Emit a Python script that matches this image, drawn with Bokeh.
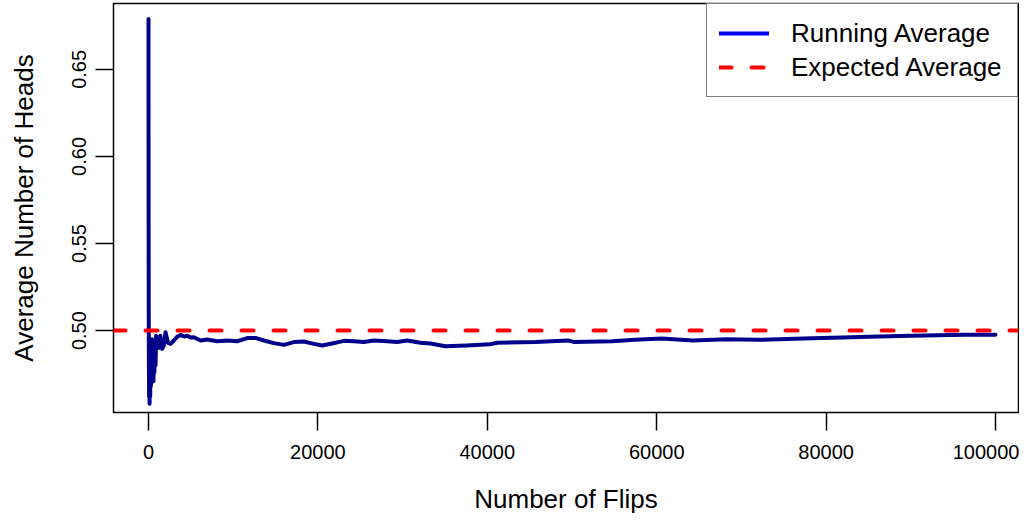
from bokeh.plotting import figure
from bokeh.models import (Range1d, FixedTicker, Span, Legend, LegendItem,
                          NumeralTickFormatter)
from bokeh.embed import file_html
from bokeh.resources import INLINE

# ---- data ----
flips = [1, 5, 15, 30, 50, 70, 100, 130, 160, 200, 240, 280, 320, 370, 420,
         470, 520, 580, 640, 700, 760, 830, 900, 1023, 1200, 1400, 1613, 1810,
         2007, 2300, 2597, 2991, 3400, 3778, 4200, 4565, 4958, 5352, 6139,
         6926, 8107, 9287, 10468, 11649, 12633, 13617, 14797, 15978, 17159,
         18339, 19520, 20504, 21684, 23062, 24242, 25423, 26603, 28177, 29358,
         30539, 32113, 33294, 35053, 37544, 40260, 41160, 45680, 49530, 50210,
         54735, 57450, 60610, 64230, 68300, 71920, 77340, 81870, 85040, 88650,
         93180, 96340, 100000]
running_avg = [0.679, 0.62, 0.56, 0.51, 0.48, 0.462, 0.470, 0.458, 0.475,
               0.462, 0.490, 0.468, 0.485, 0.470, 0.495, 0.478, 0.490, 0.471,
               0.486, 0.476, 0.492, 0.480, 0.497, 0.4964, 0.4900, 0.4970,
               0.4895, 0.4914, 0.4991, 0.4930, 0.4924, 0.4943, 0.4965, 0.4975,
               0.4966, 0.4971, 0.4960, 0.4962, 0.4943, 0.4949, 0.4939, 0.4943,
               0.4939, 0.4957, 0.4958, 0.4943, 0.4928, 0.4918, 0.4934, 0.4937,
               0.4924, 0.4914, 0.4926, 0.4941, 0.4939, 0.4934, 0.4943, 0.4939,
               0.4934, 0.4943, 0.4930, 0.4926, 0.4910, 0.4915, 0.4921, 0.4930,
               0.4934, 0.4943, 0.4935, 0.4939, 0.4947, 0.4954, 0.4943, 0.4950,
               0.4947, 0.4954, 0.4961, 0.4965, 0.4969, 0.4974, 0.4976, 0.4976]
expected_avg = 0.5

x_ticks = [0, 20000, 40000, 60000, 80000, 100000]
x_tick_labels = ["0", "20000", "40000", "60000", "80000", "100000"]
y_ticks = [0.50, 0.55, 0.60, 0.65]
y_tick_labels = ["0.50", "0.55", "0.60", "0.65"]

legend_labels = ["Running Average", "Expected Average"]
x_title = "Number of Flips"
y_title = "Average Number of Heads"

FONT = "Liberation Sans"
NAN = float("nan")

p = figure(width=1019, height=516, output_backend="svg", toolbar_location=None,
           x_range=Range1d(-4132, 102715), y_range=Range1d(0.45297, 0.68783),
           min_border_left=113, min_border_right=1, min_border_top=3,
           min_border_bottom=102)
p.background_fill_color = "white"
p.border_fill_color = "white"
p.outline_line_color = "black"
p.outline_line_width = 1.5
p.grid.visible = False

# running average line
p.line(flips, running_avg, line_color="#00008B", line_width=4,
       line_join="round", line_cap="round")

# expected average
p.add_layout(Span(location=expected_avg, dimension="width", line_color="#FF0000",
                  line_width=4, line_dash="12 20", line_cap="round"))

# legend-only renderers (no visible data)
r1 = p.line(flips[:2], [NAN, NAN], line_color="#0000FF", line_width=4,
            line_cap="round")
r2 = p.line(flips[:2], [NAN, NAN], line_color="#FF0000", line_width=4,
            line_dash="12 20", line_cap="round")

legend = Legend(items=[LegendItem(label=legend_labels[0], renderers=[r1]),
                       LegendItem(label=legend_labels[1], renderers=[r2])],
                location="top_right")
legend.margin = 0
legend.padding = 12
legend.spacing = 0
legend.glyph_width = 50
legend.glyph_height = 34
legend.label_height = 34
legend.label_width = 214
legend.label_standoff = 22
legend.label_text_font = FONT
legend.label_text_font_size = "26px"
legend.label_text_color = "black"
legend.border_line_color = "black"
legend.border_line_width = 1.5
legend.background_fill_color = "white"
legend.background_fill_alpha = 1
p.add_layout(legend)

# axes
xa = p.xaxis[0]
xa.ticker = FixedTicker(ticks=x_ticks)
xa.formatter = NumeralTickFormatter(format="0")
xa.major_label_overrides = dict(zip(x_ticks, x_tick_labels))
xa.axis_label = x_title
ya = p.yaxis[0]
ya.ticker = FixedTicker(ticks=y_ticks)
ya.formatter = NumeralTickFormatter(format="0.00")
ya.major_label_overrides = dict(zip(y_ticks, y_tick_labels))
ya.axis_label = y_title
ya.major_label_orientation = "vertical"

for ax in (xa, ya):
    ax.axis_line_color = None
    ax.major_tick_line_color = "black"
    ax.major_tick_line_width = 1.5
    ax.major_tick_in = 0
    ax.major_tick_out = 18
    ax.minor_tick_line_color = None
    ax.major_label_text_font = FONT
    ax.major_label_text_font_size = "20px"
    ax.major_label_text_color = "black"
    ax.axis_label_text_font = FONT
    ax.axis_label_text_font_size = "26px"
    ax.axis_label_text_font_style = "normal"
    ax.axis_label_text_color = "black"

xa.major_label_standoff = 14
xa.axis_label_standoff = 22
ya.major_label_standoff = 9
ya.axis_label_standoff = 31

open("out.html", "w").write(file_html(p, INLINE))
